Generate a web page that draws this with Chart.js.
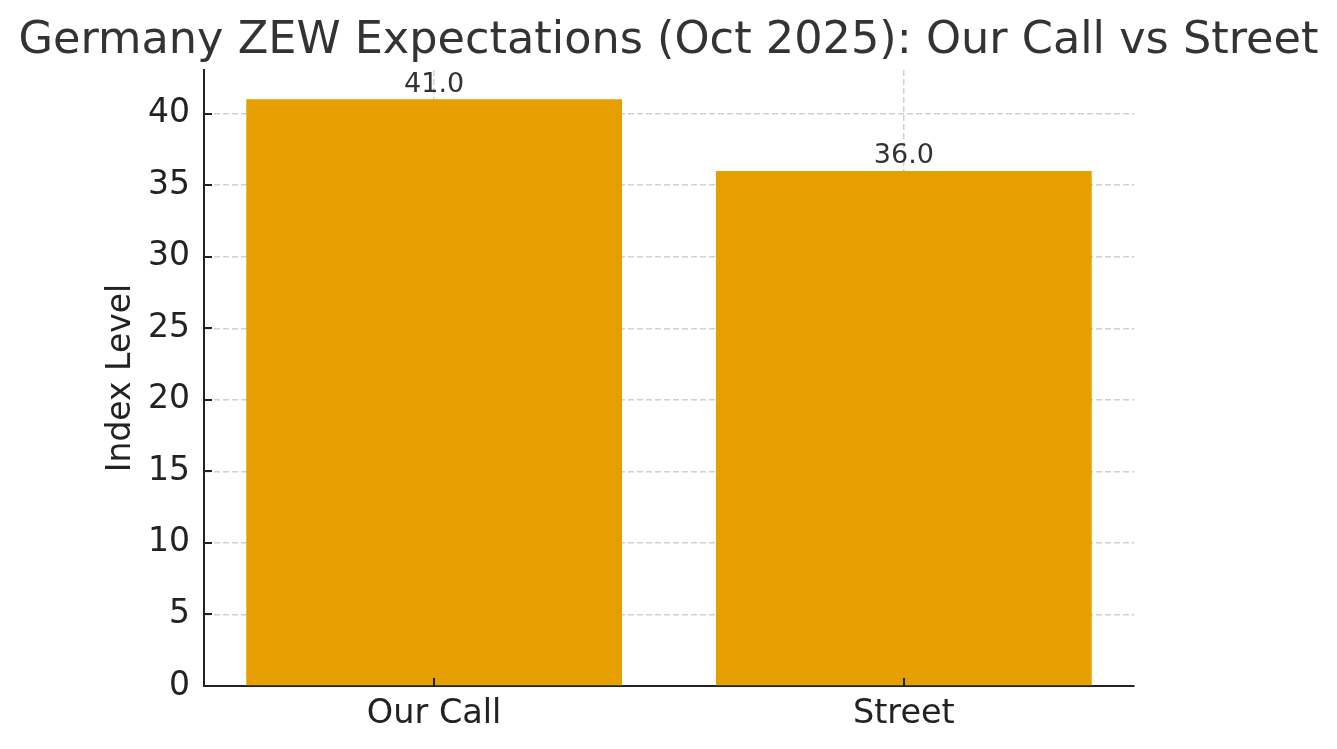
<!DOCTYPE html>
<html>
<head>
<meta charset="utf-8">
<script src="https://cdn.jsdelivr.net/npm/chart.js@4.4.1/dist/chart.umd.min.js"></script>
<style>
  html, body { margin: 0; padding: 0; background: #fff; }
  #wrap { width: 1337px; height: 749px; }
</style>
</head>
<body>
<div id="wrap"><canvas id="chart"></canvas></div>
<script>
// ===== Germany ZEW expectations: our call vs street =====

const CATS = ['Our Call', 'Street'];
const VALUES = [41.0, 36.0];
const Y_TICKS = [0, 5, 10, 15, 20, 25, 30, 35, 40];

const FONT = 'DejaVu Sans';
const BAR = '#E69F00';
const GRID = 'rgba(176,176,176,0.6)';
const INK = '#222222';

// value labels above each bar
const barLabels = {
  id: 'barLabels',
  afterDatasetsDraw(chart) {
    const ctx = chart.ctx;
    const meta = chart.getDatasetMeta(0);
    ctx.save();
    ctx.font = '27px "' + FONT + '"';
    ctx.fillStyle = '#333333';
    ctx.textAlign = 'center';
    ctx.textBaseline = 'bottom';
    meta.data.forEach((bar, i) => {
      ctx.fillText(VALUES[i].toFixed(1), bar.x, bar.y - 1);
    });
    ctx.restore();
  }
};

// matplotlib style ticks pointing into the plot
const innerTicks = {
  id: 'innerTicks',
  afterDraw(chart) {
    const ctx = chart.ctx;
    const { x, y } = chart.scales;
    const area = chart.chartArea;
    ctx.save();
    ctx.strokeStyle = INK;
    ctx.lineWidth = 2;
    ctx.beginPath();
    y.ticks.forEach(t => {
      const py = Math.round(y.getPixelForValue(t.value));
      ctx.moveTo(area.left, py);
      ctx.lineTo(area.left + 8, py);
    });
    x.ticks.forEach(t => {
      const px = Math.round(x.getPixelForValue(t.value));
      ctx.moveTo(px, area.bottom);
      ctx.lineTo(px, area.bottom - 8);
    });
    ctx.stroke();
    ctx.restore();
  }
};

new Chart(document.getElementById('chart'), {
  type: 'bar',
  data: {
    datasets: [{
      data: CATS.map((c, i) => ({ x: i, y: VALUES[i] })),
      backgroundColor: BAR,
      borderWidth: 0,
      barPercentage: 0.8,
      categoryPercentage: 1.0
    }]
  },
  options: {
    responsive: true, maintainAspectRatio: false, animation: false,
    devicePixelRatio: 1,
    layout: { padding: 0 },
    plugins: {
      legend: { display: false },
      tooltip: { enabled: false },
      title: {
        display: true,
        text: 'Germany ZEW Expectations (Oct 2025): Our Call vs Street',
        color: '#333333',
        font: { family: FONT, size: 44.6, weight: 'normal', lineHeight: 1.2 },
        padding: { top: 15, bottom: 1.5 }
      }
    },
    scales: {
      x: {
        type: 'linear', min: -0.49, max: 1.49, offset: false, z: 1,
        afterBuildTicks: s => { s.ticks = CATS.map((c, i) => ({ value: i })); },
        afterFit: s => { s.height = 63; },
        ticks: {
          callback: v => CATS[v], color: INK, padding: 8,
          font: { family: FONT, size: 33.5 }, maxRotation: 0, autoSkip: false
        },
        grid: { color: GRID, lineWidth: 1.5, drawTicks: false, offset: false },
        border: { display: true, color: INK, width: 2, dash: [6, 3] }
      },
      y: {
        type: 'linear', min: 0, max: 43.05, z: 1,
        afterBuildTicks: s => { s.ticks = Y_TICKS.map(v => ({ value: v })); },
        afterFit: s => { s.width = 204; },
        ticks: {
          color: INK, padding: 14, font: { family: FONT, size: 33 }
        },
        title: {
          display: true, text: 'Index Level', color: INK,
          font: { family: FONT, size: 33 }, padding: { top: 102, bottom: 0 }
        },
        grid: { color: GRID, lineWidth: 1.5, drawTicks: false },
        border: { display: true, color: INK, width: 2, dash: [6, 3] }
      },
      // empty right-hand margin, matches the space right of the plot
      margin: {
        type: 'linear', position: 'right', axis: 'y',
        afterFit: s => { s.width = 203; },
        ticks: { display: false },
        grid: { display: false },
        border: { display: false }
      }
    }
  },
  plugins: [barLabels, innerTicks]
});
</script>
</body>
</html>
